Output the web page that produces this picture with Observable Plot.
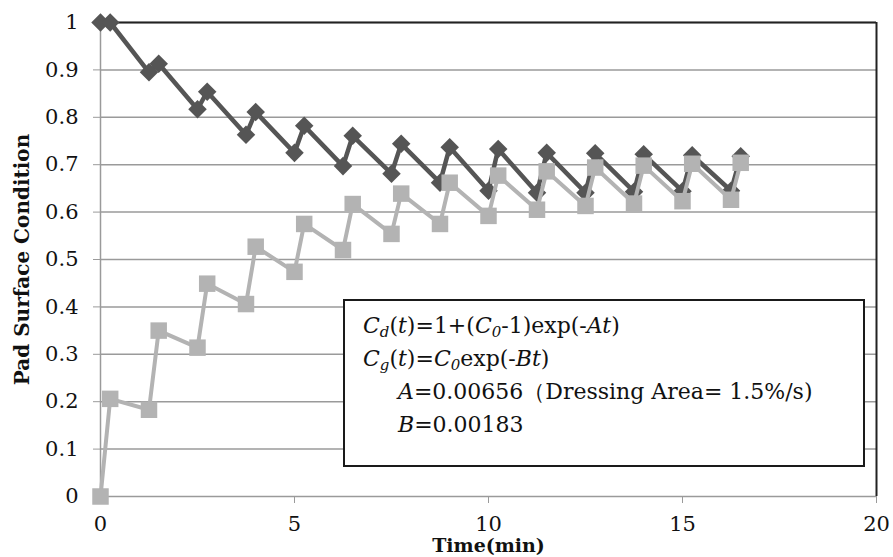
<!DOCTYPE html>
<html>
<head>
<meta charset="utf-8">
<script src="https://cdn.jsdelivr.net/npm/d3@7"></script>
<script src="https://cdn.jsdelivr.net/npm/@observablehq/plot@0.6"></script>
<style>
  html, body { margin: 0; padding: 0; background: #fff; }
  #wrap { position: relative; width: 893px; height: 557px; }
  #legend {
    position: absolute; left: 343px; top: 299px; width: 522px; height: 168px;
    box-sizing: border-box; border: 2px solid #1a1a1a; background: #fff;
    font-family: "DejaVu Serif", serif; font-size: 22px; color: #111;
    padding: 8px 0 0 18px; line-height: 33px;
  }
  #legend sub { font-size: 0.68em; line-height: 0; vertical-align: -0.3em; }
  #legend .ind { padding-left: 35px; }
</style>
</head>
<body>
<div id="wrap"></div>
<script>
// Time (min)
const time = [0, 0.25, 1.25, 1.5, 2.5, 2.75, 3.75, 4.0, 5.0, 5.25, 6.25, 6.5, 7.5, 7.75,
  8.75, 9.0, 10.0, 10.25, 11.25, 11.5, 12.5, 12.75, 13.75, 14.0, 15.0, 15.25, 16.25, 16.5];
// Cd(t) — dressing (dark diamonds)
const cd = [1.0, 1.0, 0.895, 0.913, 0.817, 0.854, 0.763, 0.811, 0.725, 0.782, 0.697, 0.761, 0.681, 0.744,
  0.662, 0.737, 0.645, 0.733, 0.641, 0.725, 0.641, 0.724, 0.643, 0.722, 0.644, 0.720, 0.645, 0.718];
// Cg(t) — grinding (gray squares)
const cg = [0.0, 0.206, 0.183, 0.350, 0.314, 0.449, 0.406, 0.527, 0.474, 0.575, 0.520, 0.617, 0.554, 0.639,
  0.575, 0.662, 0.592, 0.677, 0.605, 0.686, 0.613, 0.694, 0.618, 0.698, 0.623, 0.702, 0.626, 0.704];
const xTicks = [0, 5, 10, 15, 20];
const yTicks = [0, 0.1, 0.2, 0.3, 0.4, 0.5, 0.6, 0.7, 0.8, 0.9, 1];

const dataD = time.map((t, i) => ({t, v: cd[i]}));
const dataG = time.map((t, i) => ({t, v: cg[i]}));

const diamond = {
  draw(ctx, size) {
    const r = Math.sqrt(size / 2);
    ctx.moveTo(0, -r); ctx.lineTo(r, 0); ctx.lineTo(0, r); ctx.lineTo(-r, 0); ctx.closePath();
  }
};

const dark = "#555555", light = "#b3b3b3";

const chart = Plot.plot({
  width: 893, height: 557,
  marginLeft: 100, marginRight: 17, marginTop: 22, marginBottom: 61,
  style: {fontFamily: "DejaVu Serif, serif", fontSize: "21px", color: "#111", background: "#fff"},
  x: {domain: [0, 20]},
  y: {domain: [0, 1]},
  marks: [
    Plot.gridY(yTicks, {stroke: "#9a9a9a", strokeOpacity: 1, strokeWidth: 1.5}),
    Plot.ruleX([0], {stroke: "#9a9a9a", strokeWidth: 1.5}),
    Plot.ruleY([1], {stroke: "#222", strokeWidth: 2}),
    Plot.ruleX([20], {stroke: "#222", strokeWidth: 2}),
    Plot.axisY(yTicks, {tickSize: 7, tickPadding: 15, stroke: "#9a9a9a", fill: "#111",
      tickFormat: d => String(+d.toFixed(1)), label: null}),
    Plot.axisX(xTicks, {tickSize: 7, tickPadding: 13, stroke: "#9a9a9a", fill: "#111", label: null}),
    Plot.line(dataD, {x: "t", y: "v", stroke: dark, strokeWidth: 4.5}),
    Plot.dot(dataD, {x: "t", y: "v", symbol: diamond, r: 7.4, fill: dark, stroke: "none"}),
    Plot.line(dataG, {x: "t", y: "v", stroke: light, strokeWidth: 4}),
    Plot.dot(dataG, {x: "t", y: "v", symbol: "square", r: 9.3, fill: light, stroke: "none"}),
    Plot.text(["Time(min)"], {frameAnchor: "bottom", dy: 55, fontWeight: "bold", fontSize: 19, fill: "#111"}),
    Plot.text(["Pad Surface Condition"], {frameAnchor: "left", textAnchor: "middle", dx: -78, rotate: -90,
      fontWeight: "bold", fontSize: 20, fill: "#111"})
  ]
});

const wrap = document.getElementById("wrap");
wrap.appendChild(chart);
const legend = document.createElement("div");
legend.id = "legend";
legend.innerHTML =
  '<div><i>C</i><sub><i>d</i></sub>(<i>t</i>)=1+(<i>C</i><sub><i>0</i></sub>-1)exp(-<i>At</i>)</div>' +
  '<div><i>C</i><sub><i>g</i></sub>(<i>t</i>)=<i>C</i><sub><i>0</i></sub>exp(-<i>Bt</i>)</div>' +
  '<div class="ind"><i>A</i>=0.00656（Dressing Area= 1.5%/s)</div>' +
  '<div class="ind"><i>B</i>=0.00183</div>';
wrap.appendChild(legend);
</script>
</body>
</html>
